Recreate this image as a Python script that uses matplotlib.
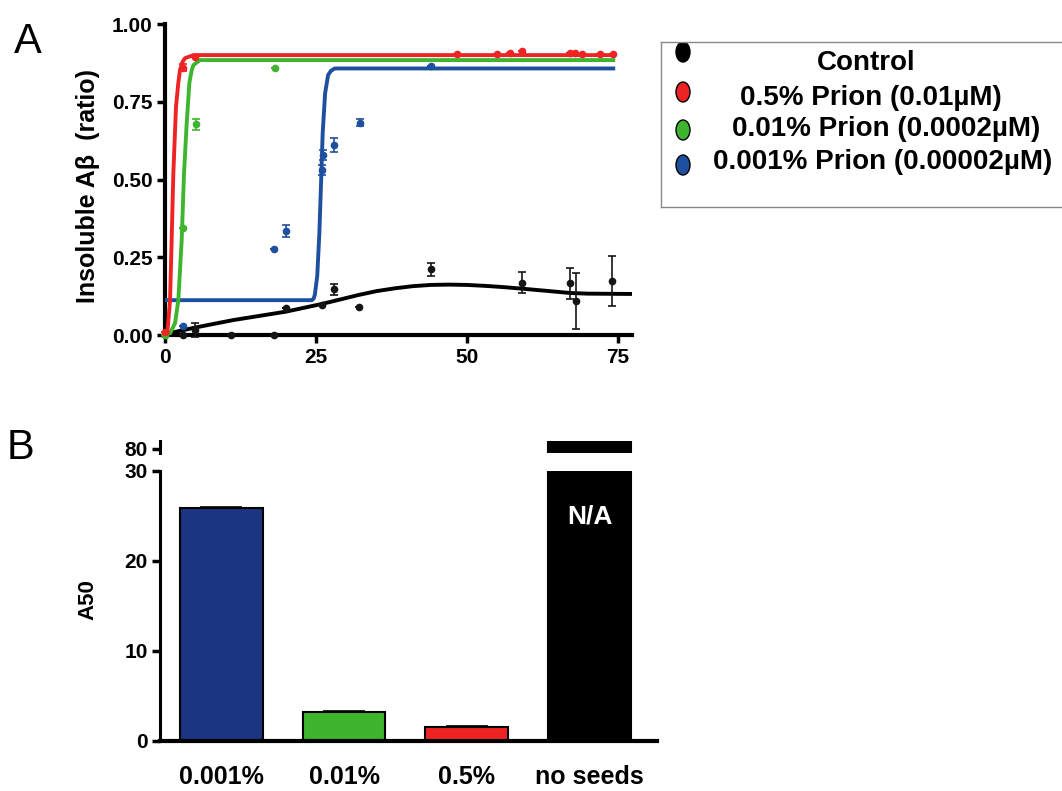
import matplotlib
matplotlib.use("Agg")
import matplotlib.pyplot as plt
from matplotlib.patches import Ellipse

plt.rcParams['font.family'] = ['Liberation Sans', 'DejaVu Sans']
plt.rcParams['font.weight'] = 'bold'

# colours
RED = '#ee2424'
GREEN = '#3fb52f'
BLUE = '#1f4f9f'
NAVY = '#1b3580'

# ---- panel A: measured points (time, ratio, error) ----
ctrl_x = [0, 2.9, 5.0, 11.0, 18.1, 20.0, 26.0, 28.0, 32.1, 44.0, 59.1, 67.0, 68.0, 74.0]
ctrl_y = [0.0, 0.0, 0.016, 0.0, 0.0, 0.088, 0.097, 0.147, 0.089, 0.211, 0.168, 0.166, 0.109, 0.174]
ctrl_err = [0, 0, 0.024, 0, 0, 0, 0, 0.018, 0, 0.021, 0.033, 0.051, 0.09, 0.08]

red_x = [0, 3.0, 5.0, 48.3, 54.9, 57.1, 59.1, 67.0, 67.8, 69.0, 72.0, 74.2]
red_y = [0.01, 0.86, 0.895, 0.902, 0.905, 0.906, 0.912, 0.908, 0.906, 0.905, 0.905, 0.903]
red_err = [0, 0.012, 0, 0, 0, 0, 0, 0, 0, 0, 0, 0]

green_x = [0, 2.9, 5.1, 18.2]
green_y = [0.0, 0.343, 0.678, 0.858]
green_err = [0, 0, 0.018, 0]

blue_x = [2.9, 18.1, 20.0, 26.0, 26.1, 28.0, 32.2, 44.1]
blue_y = [0.029, 0.277, 0.334, 0.531, 0.579, 0.611, 0.683, 0.865]
blue_err = [0, 0, 0.02, 0.015, 0.015, 0.021, 0.012, 0]

# ---- panel A: fitted curves ----
ctrl_fit_x = [0, 5, 11.3, 20, 26, 32.1, 35, 38, 41, 44, 47, 50, 53, 56, 59.1, 63.7, 67.1, 70, 77]
ctrl_fit_y = [0.003, 0.024, 0.048, 0.075, 0.10, 0.129, 0.141, 0.150, 0.157, 0.161, 0.162, 0.161,
              0.158, 0.154, 0.149, 0.141, 0.135, 0.133, 0.132]

red_fit_x = [0, 0.38, 0.83, 1.1, 1.38, 1.82, 2.2, 2.48, 2.9, 3.3, 4.7, 74.2]
red_fit_y = [0, 0.005, 0.11, 0.305, 0.52, 0.734, 0.81, 0.852, 0.878, 0.89, 0.90, 0.90]

green_fit_x = [0, 0.83, 1.66, 2.2, 2.76, 3.15, 3.59, 4.03, 4.4, 4.7, 5.8, 74.2]
green_fit_y = [0, 0.005, 0.038, 0.11, 0.305, 0.52, 0.68, 0.81, 0.85, 0.868, 0.884, 0.884]

blue_fit_x = [0, 24.3, 24.6, 24.8, 25.2, 25.55, 25.83, 26.1, 26.5, 27.0, 27.5, 28.1, 74.2]
blue_fit_y = [0.112, 0.112, 0.117, 0.129, 0.19, 0.327, 0.488, 0.649, 0.777, 0.836, 0.85, 0.857, 0.857]

legend_labels = ['Control', '0.5% Prion (0.01\u00b5M)', '0.01% Prion (0.0002\u00b5M)',
                 '0.001% Prion (0.00002\u00b5M)']

# ---- panel B ----
b_labels = ['0.001%', '0.01%', '0.5%', 'no seeds']
b_values = [25.9, 3.2, 1.6, 82]
b_err = [0.15, 0.1, 0.1, 0]
b_colors = [NAVY, GREEN, RED, 'black']

W, H = 1062, 791
fig = plt.figure(figsize=(W / 100, H / 100), dpi=100)


def box(left, top, right, bottom):
    return [left / W, 1 - bottom / H, (right - left) / W, (bottom - top) / H]


# ================= panel A =================
ax = fig.add_axes(box(165, 24, 632, 335))
ax.set_xlim(0, 77.3)
ax.set_ylim(0, 1)

ax.plot(ctrl_fit_x, ctrl_fit_y, color='black', lw=2.8, solid_joinstyle='round', zorder=3)
ax.plot(blue_fit_x, blue_fit_y, color=BLUE, lw=2.8, solid_joinstyle='round', zorder=3)
ax.plot(green_fit_x, green_fit_y, color=GREEN, lw=2.8, solid_joinstyle='round', zorder=4)
ax.plot(red_fit_x, red_fit_y, color=RED, lw=2.8, solid_joinstyle='round', zorder=5)

for xs, ys, es, c in [(ctrl_x, ctrl_y, ctrl_err, '#151515'), (blue_x, blue_y, blue_err, BLUE),
                      (green_x, green_y, green_err, GREEN), (red_x, red_y, red_err, RED)]:
    ax.errorbar(xs, ys, yerr=es, fmt='o', color=c, ms=4.5, elinewidth=1.2, capsize=3,
                capthick=1.2, clip_on=False, zorder=6)

for s in ['top', 'right']:
    ax.spines[s].set_visible(False)
for s in ['left', 'bottom']:
    ax.spines[s].set_linewidth(3)
ax.set_xticks([0, 25, 50, 75])
ax.set_yticks([0, 0.25, 0.5, 0.75, 1.0])
ax.set_yticklabels(['0.00', '0.25', '0.50', '0.75', '1.00'])
ax.tick_params(width=2.5, length=6, labelsize=15, pad=3)
fig.text(88 / W, 1 - 186 / H, 'Insoluble A\u03b2  (ratio)', rotation=90, ha='center', va='center',
         fontsize=18, fontweight='bold')

# legend box
lg = fig.add_axes(box(661, 42, 1100, 207))
lg.set_xlim(661, 1100)
lg.set_ylim(207, 42)
lg.set_xticks([])
lg.set_yticks([])
for s in lg.spines.values():
    s.set_color('#888888')
    s.set_linewidth(1)
mark_y = [52, 92, 130, 165]
text_pos = [(866, 63), (871, 98), (886, 129), (883, 162)]
for c, my, (tx, ty), lab in zip(['black', RED, GREEN, BLUE], mark_y, text_pos, legend_labels):
    lg.add_patch(Ellipse((683, my), 14, 20, facecolor=c, edgecolor='black', lw=1))
    lg.text(tx, ty, lab, ha='center', va='center', fontsize=20, fontweight='bold')

fig.text(28 / W, 1 - 42 / H, 'A', ha='center', va='center', fontsize=30, fontweight='normal')
fig.text(20 / W, 1 - 448 / H, 'B', ha='center', va='center', fontsize=30, fontweight='normal')

# ================= panel B =================
bx = fig.add_axes(box(160, 471, 657, 741))
tx_ = fig.add_axes(box(160, 441, 657, 453))
pos = list(range(len(b_values)))
for a in (bx, tx_):
    a.bar(pos, b_values, width=0.675, color=b_colors, edgecolor='black', linewidth=1.5)
    a.set_xlim(-0.5, 3.55)
    for s in ['top', 'right']:
        a.spines[s].set_visible(False)
    a.spines['left'].set_linewidth(2.2)
bx.errorbar(pos[:3], b_values[:3], yerr=[[0, 0, 0], b_err[:3]], fmt='none', ecolor='black',
            elinewidth=1.2, capsize=15, capthick=1.2)
bx.set_ylim(0, 30)
bx.set_yticks([0, 10, 20, 30])
bx.spines['bottom'].set_linewidth(3)
bx.set_xticks(pos)
bx.set_xticklabels(b_labels, fontsize=18, fontweight='bold')
bx.tick_params(axis='x', length=0, pad=17)
bx.tick_params(axis='y', width=2.5, length=6, labelsize=15, pad=3)

tx_.set_ylim(79, 82)
tx_.set_yticks([80])
tx_.set_xticks([])
tx_.spines['bottom'].set_visible(False)
tx_.tick_params(axis='y', width=2.5, length=6, labelsize=15, pad=3)

bx.text(3, 24.9, 'N/A', color='white', ha='center', va='center', fontsize=19, fontweight='bold')
fig.text(88 / W, 1 - 600 / H, 'A50', rotation=90, ha='center', va='center',
         fontsize=16, fontweight='bold')

fig.savefig('out.png', dpi=100)
